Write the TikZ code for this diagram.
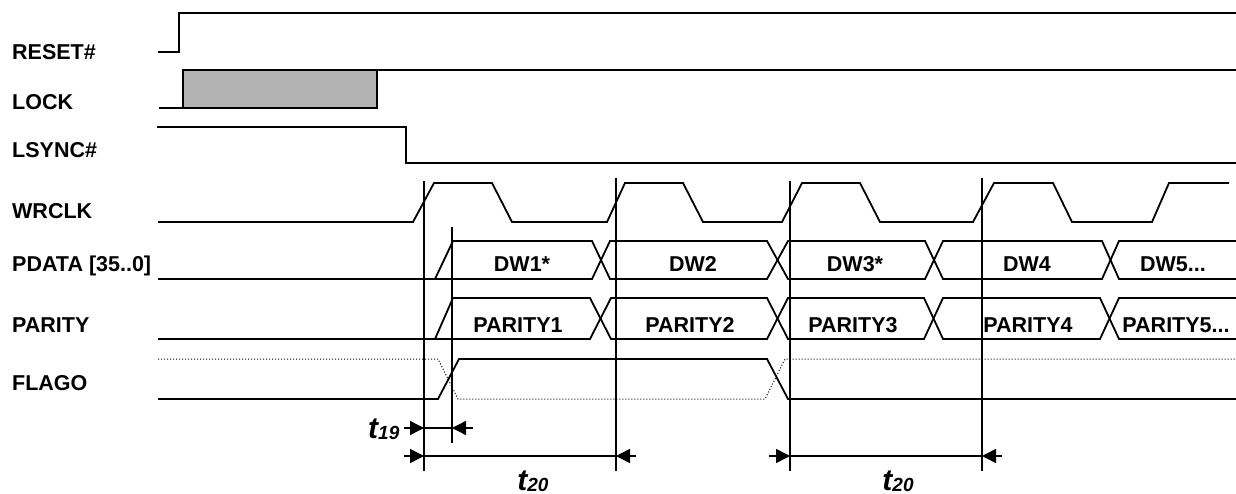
\documentclass[tikz,border=0pt]{standalone}
\usepackage{fontspec}
\setmainfont{Liberation Sans}
\usetikzlibrary{arrows.meta}
\definecolor{lockgray}{RGB}{179,179,179}
\begin{document}
\begin{tikzpicture}[x=1pt,y=-1pt,
  sig/.style={line width=1.8pt, line join=miter},
  dotsig/.style={line width=1pt, dotted},
  vline/.style={line width=1.5pt},
  dimarrow/.style={line width=1.5pt, -{Triangle[length=14pt,width=14pt]}},
  dimline/.style={line width=1.5pt},
  lbl/.style={anchor=base west, inner sep=0pt, font=\fontsize{21.5}{21.5}\selectfont\bfseries},
  val/.style={anchor=base, inner sep=0pt, font=\fontsize{21.5}{21.5}\selectfont\bfseries},
  tlbl/.style={inner sep=0pt, font=\bfseries\itshape}]
\useasboundingbox (0,0) rectangle (1236,494);

% signal names
\node[lbl] (lreset) at (12,60) {RESET\#};
\node[lbl] (llock) at (12,110) {LOCK};
\node[lbl] (llsync) at (12,158) {LSYNC\#};
\node[lbl] (lwrclk) at (12,219) {WRCLK};
\node[lbl] (lpdata) at (12,272) {PDATA [35..0]};
\node[lbl] (lparity) at (12,332) {PARITY};
\node[lbl] (lflago) at (12,390) {FLAGO};

% RESET#
\draw[sig] (158,52) -- (179,52) -- (179,13) -- (1236,13);
% LOCK
\filldraw[sig, fill=lockgray] (183,108) rectangle (377,70);
\draw[sig] (159,108) -- (183,108);
\draw[sig] (377,70) -- (1236,70);
% LSYNC#
\draw[sig] (157,127) -- (406,127) -- (406,163) -- (1236,163);

% WRCLK
\draw[sig] (158,222) -- (413,222) -- (434,183) -- (492,183) -- (512,222) -- (607,222)
  -- (625,183) -- (683,183) -- (703,222) -- (782,222) -- (802,183) -- (860,183)
  -- (880,222) -- (973,222) -- (994,183) -- (1053,183) -- (1072,222) -- (1152,222)
  -- (1169,183) -- (1229,183);

% PDATA
\draw[sig] (158,279) -- (592,279) -- (610,241) -- (767,241) -- (788,279) -- (925,279)
  -- (943,241) -- (1102,241) -- (1119,279) -- (1236,279);
\draw[sig] (435,279) -- (453,241) -- (592,241) -- (610,279) -- (767,279) -- (788,241)
  -- (925,241) -- (943,279) -- (1102,279) -- (1119,241) -- (1236,241);
\node[val] (dw1) at (522,272) {DW1*};
\node[val] (dw2) at (693,272) {DW2};
\node[val] (dw3) at (855,272) {DW3*};
\node[val] (dw4) at (1027,272) {DW4};
\node[val] (dw5) at (1173,272) {DW5...};

% PARITY
\draw[sig] (158,339) -- (590,339) -- (611,298) -- (767,298) -- (788,339) -- (924,339)
  -- (943,298) -- (1100,298) -- (1119,339) -- (1236,339);
\draw[sig] (435,339) -- (453,298) -- (590,298) -- (611,339) -- (767,339) -- (788,298)
  -- (924,298) -- (943,339) -- (1100,339) -- (1119,298) -- (1236,298);
\node[val] (p1) at (518,332) {PARITY1};
\node[val] (p2) at (690,332) {PARITY2};
\node[val] (p3) at (853,332) {PARITY3};
\node[val] (p4) at (1028,332) {PARITY4};
\node[val] (p5) at (1176,332) {PARITY5...};

% FLAGO
\draw[sig] (158,399) -- (438,399) -- (459,359) -- (767,359) -- (788,399) -- (1236,399);
\draw[dotsig] (158,359) -- (438,359) -- (458,399) -- (765,399) -- (785,359) -- (1236,359);

% reference verticals
\draw[vline] (424,181) -- (424,471);
\draw[vline] (452,227) -- (452,443);
\draw[vline] (616,178) -- (616,471);
\draw[vline] (790,181) -- (790,471);
\draw[vline] (982,178) -- (982,471);

% t19
\coordinate (a19l) at (404,428);
\coordinate (b19l) at (424,428);
\coordinate (b19r) at (452,428);
\coordinate (a19r) at (473,428);
\draw[dimarrow] (a19l) -- (b19l);
\draw[dimline] (b19l) -- (b19r);
\draw[dimarrow] (a19r) -- (b19r);
\node[tlbl, anchor=base west] (t19) at (368,438) {\fontsize{30}{30}\selectfont t\raisebox{-1.5pt}{\fontsize{19}{19}\selectfont 19}};

% t20 (first)
\coordinate (a20l) at (404,456);
\coordinate (b20l) at (424,456);
\coordinate (b20r) at (616,456);
\coordinate (a20r) at (636,456);
\draw[dimarrow] (a20l) -- (b20l);
\draw[dimline] (b20l) -- (b20r);
\draw[dimarrow] (a20r) -- (b20r);
\node[tlbl, anchor=base] (t20a) at (533,490) {\fontsize{30}{30}\selectfont t\raisebox{-1.5pt}{\fontsize{19}{19}\selectfont 20}};

% t20 (second)
\coordinate (c20l) at (769,456);
\coordinate (d20l) at (790,456);
\coordinate (d20r) at (982,456);
\coordinate (c20r) at (1002,456);
\draw[dimarrow] (c20l) -- (d20l);
\draw[dimline] (d20l) -- (d20r);
\draw[dimarrow] (c20r) -- (d20r);
\node[tlbl, anchor=base] (t20b) at (898,490) {\fontsize{30}{30}\selectfont t\raisebox{-1.5pt}{\fontsize{19}{19}\selectfont 20}};
\end{tikzpicture}
\end{document}
